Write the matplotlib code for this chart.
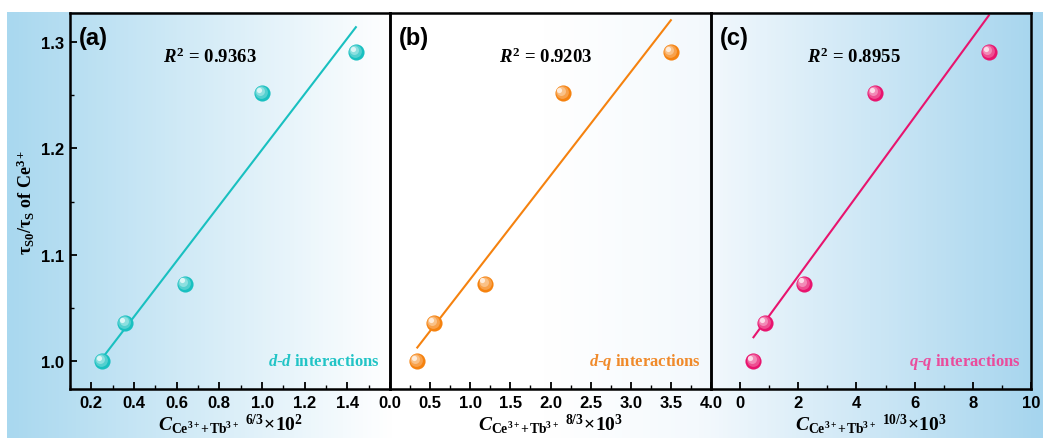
import numpy as np
import matplotlib.pyplot as plt
import matplotlib.transforms as mtransforms
from matplotlib.colors import LinearSegmentedColormap, to_rgb
from matplotlib.ticker import MultipleLocator

plt.rcParams['mathtext.fontset'] = 'custom'
plt.rcParams['mathtext.rm'] = 'Liberation Serif:bold'
plt.rcParams['mathtext.it'] = 'Liberation Serif:italic:bold'
plt.rcParams['mathtext.bf'] = 'Liberation Serif:bold'

# data
ratio = [1.000, 1.036, 1.073, 1.252, 1.290]          # tau_S0 / tau_S of Ce3+
x_dd = [0.25, 0.36, 0.64, 1.00, 1.44]                # C^(6/3) x 10^2
x_dq = [0.34, 0.55, 1.19, 2.15, 3.50]                # C^(8/3) x 10^3
x_qq = [0.46, 0.86, 2.20, 4.64, 8.55]                # C^(10/3) x 10^3
r2_labels = ["0.9363", "0.9203", "0.8955"]
panel_tags = ["(a)", "(b)", "(c)"]
kinds = ["$d$-$d$ interactions", "$d$-$q$ interactions", "$q$-$q$ interactions"]
powers = ["6/3", "8/3", "10/3"]
scales = ["10^2", "10^3", "10^3"]

colors = ["#19c0c0", "#f5820f", "#e8146e"]
text_colors = ["#22c4c6", "#f08a2a", "#ea4c9c"]

W, H = 1043, 439
fig = plt.figure(figsize=(W / 100, H / 100), dpi=100)

# gradient background
bg = fig.add_axes([7 / W, 0, 1 - 7 / W, 426 / H], zorder=-10)
cmap = LinearSegmentedColormap.from_list(
    "bg", [(0, "#a9d8ef"), (0.37, "#ffffff"), (0.52, "#ffffff"), (0.67, "#f4f9fd"), (1, "#a6d5ee")])
bg.imshow(np.linspace(0, 1, 512)[None, :], aspect="auto", cmap=cmap, extent=[0, 1, 0, 1])
bg.axis("off")

lefts = [70, 390, 711]
widths = [320, 321, 320]
xlims = [(0.1, 1.6), (0.0, 4.0), (-1.0, 10.0)]
majors = [np.arange(0.2, 1.41, 0.2), np.arange(0, 4.01, 0.5), np.arange(0, 10.1, 2)]
minors = [0.1, 0.25, 1]
r2_pos = [0.436, 0.484, 0.446]
xs_all = [x_dd, x_dq, x_qq]


def sphere(ax, x, y, c):
    base = np.array(to_rgb(c))
    layers = [(135, 0.0, 0.0, 0.0), (85, 0.25, -0.7, 0.7), (42, 0.5, -1.4, 1.4), (14, 0.85, -2.2, 2.2)]
    for s, mix, dx, dy in layers:
        col = base * (1 - mix) + np.ones(3) * mix
        tr = mtransforms.offset_copy(ax.transData, fig=fig, x=dx, y=dy, units="points")
        ax.scatter(x, y, s=s, color=col, transform=tr, zorder=3 + mix, linewidths=0)


for i in range(3):
    ax = fig.add_axes([lefts[i] / W, 49 / H, widths[i] / W, 376 / H])
    ax.set_facecolor("none")
    x = np.array(xs_all[i])
    y = np.array(ratio)
    k, b = np.polyfit(x, y, 1)
    xl = np.array([x.min(), x.max()])
    ax.plot(xl, k * xl + b, color=colors[i], lw=1.5, zorder=2)
    sphere(ax, x, y, colors[i])

    ax.set_xlim(*xlims[i])
    ax.set_ylim(0.974, 1.327)
    ax.set_xticks(majors[i])
    ax.xaxis.set_minor_locator(MultipleLocator(minors[i]))
    if i < 2:
        ax.set_xticklabels(["%.1f" % v for v in majors[i]])
    else:
        ax.set_xticklabels(["%d" % v for v in majors[i]])

    if i == 0:
        ax.set_yticks([1.0, 1.1, 1.2, 1.3])
        ax.yaxis.set_minor_locator(MultipleLocator(0.05))
        ax.set_ylabel(r"$\mathrm{\tau_{S0}/\tau_{S}}$ of Ce$^{3+}$", fontsize=13,
                      fontfamily="Liberation Serif", fontweight="bold", labelpad=3)
    else:
        ax.set_yticks([])
        ax.tick_params(axis="y", which="both", left=False)

    ax.tick_params(axis="both", which="major", direction="in", length=5, width=1.3,
                   labelsize=12, pad=4)
    ax.tick_params(axis="both", which="minor", direction="in", length=3, width=1.0)
    ax.tick_params(axis="x", which="both", top=False)
    ax.tick_params(axis="y", which="both", right=False)
    for lab in ax.get_xticklabels() + ax.get_yticklabels():
        lab.set_fontfamily("Liberation Sans")
        lab.set_fontweight("bold")
    for sp in ax.spines.values():
        sp.set_linewidth(1.8)

    ax.set_xlabel(r"$C_{\mathrm{Ce^{3+}\!+\!Tb^{3+}}}\ {}^{%s}\!\times\!\mathrm{%s}$" % (powers[i], scales[i]),
                  fontsize=14, labelpad=1)

    ax.text(0.027, 0.935, panel_tags[i], transform=ax.transAxes, fontsize=17,
            fontfamily="Liberation Sans", fontweight="bold", va="center", ha="left")
    ax.text(r2_pos[i], 0.886, "$R^2$ = " + r2_labels[i], transform=ax.transAxes, fontsize=13.5,
            fontfamily="Liberation Serif", fontweight="bold", va="center", ha="center")
    ax.text(0.969, 0.074, kinds[i], transform=ax.transAxes, fontsize=12, color=text_colors[i],
            fontfamily="Liberation Serif", fontweight="bold", va="center", ha="right")

fig.savefig("out.png", dpi=100)
